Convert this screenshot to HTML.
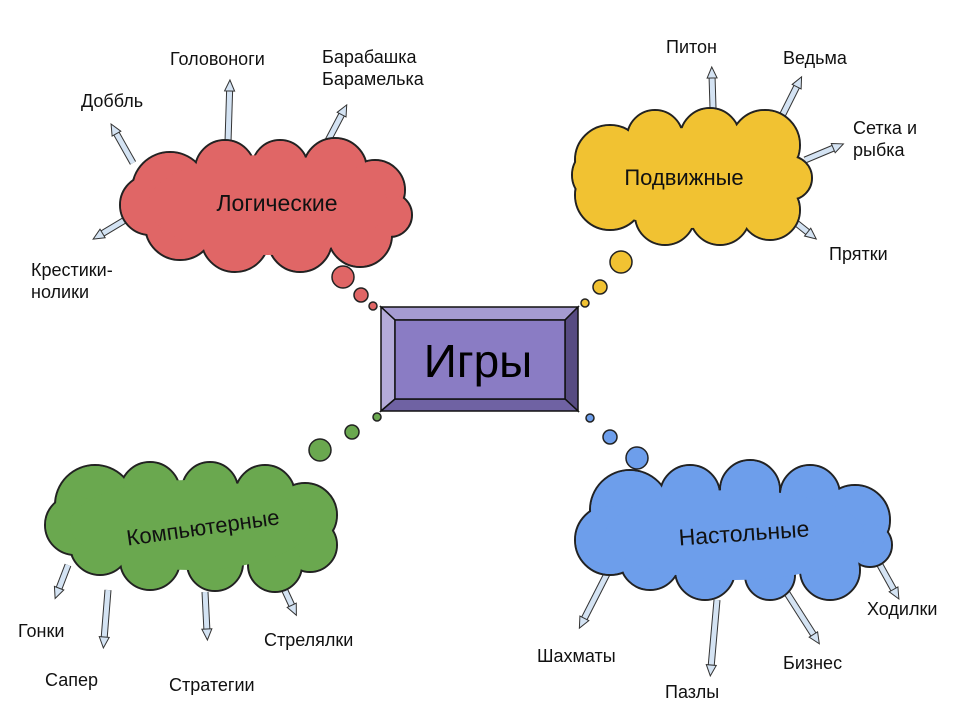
<!DOCTYPE html>
<html><head><meta charset="utf-8"><style>
html,body{margin:0;padding:0;background:#fff;}
svg{display:block;font-family:"Liberation Sans",sans-serif;}
</style></head><body>
<svg width="960" height="720" viewBox="0 0 960 720">
<defs>
<marker id="ah" markerUnits="userSpaceOnUse" markerWidth="16" markerHeight="16" refX="4" refY="8" orient="auto">
<polygon points="1,3 12,8 1,13" fill="#d4e3f3" stroke="#333" stroke-width="1"/>
</marker>
</defs>
<g stroke-linecap="butt">
<g stroke="#333" stroke-width="7">
<line x1="228" y1="142" x2="229.7" y2="88"/>
<line x1="322" y1="152" x2="343" y2="112"/>
<line x1="133" y1="163" x2="115" y2="131"/>
<line x1="125" y1="220" x2="100" y2="235"/>
<line x1="713" y1="108" x2="712" y2="75"/>
<line x1="780" y1="120" x2="798" y2="84"/>
<line x1="805" y1="160" x2="836" y2="147"/>
<line x1="780" y1="210" x2="810" y2="234"/>
<line x1="68" y1="565" x2="58" y2="591"/>
<line x1="108" y1="590" x2="104" y2="640"/>
<line x1="205" y1="592" x2="207" y2="632"/>
<line x1="280" y1="580" x2="293" y2="608"/>
<line x1="610" y1="568" x2="583" y2="621"/>
<line x1="717" y1="600" x2="711" y2="668"/>
<line x1="785" y1="590" x2="815" y2="637"/>
<line x1="880" y1="565" x2="895" y2="592"/>
</g>
<g stroke="#d4e3f3" stroke-width="5" marker-end="url(#ah)">
<line x1="228" y1="142" x2="229.7" y2="88"/>
<line x1="322" y1="152" x2="343" y2="112"/>
<line x1="133" y1="163" x2="115" y2="131"/>
<line x1="125" y1="220" x2="100" y2="235"/>
<line x1="713" y1="108" x2="712" y2="75"/>
<line x1="780" y1="120" x2="798" y2="84"/>
<line x1="805" y1="160" x2="836" y2="147"/>
<line x1="780" y1="210" x2="810" y2="234"/>
<line x1="68" y1="565" x2="58" y2="591"/>
<line x1="108" y1="590" x2="104" y2="640"/>
<line x1="205" y1="592" x2="207" y2="632"/>
<line x1="280" y1="580" x2="293" y2="608"/>
<line x1="610" y1="568" x2="583" y2="621"/>
<line x1="717" y1="600" x2="711" y2="668"/>
<line x1="785" y1="590" x2="815" y2="637"/>
<line x1="880" y1="565" x2="895" y2="592"/>
</g>
</g>

<g stroke="#222" stroke-width="2" fill="#e06666">
<circle cx="170" cy="190" r="38"/><circle cx="225" cy="170" r="30"/><circle cx="280" cy="168" r="28"/><circle cx="335" cy="170" r="32"/><circle cx="375" cy="190" r="30"/><circle cx="390" cy="215" r="22"/><circle cx="360" cy="235" r="32"/><circle cx="300" cy="240" r="32"/><circle cx="235" cy="238" r="34"/><circle cx="180" cy="225" r="35"/><circle cx="150" cy="205" r="30"/>
</g>
<g fill="#e06666">
<circle cx="170" cy="190" r="37"/><circle cx="225" cy="170" r="29"/><circle cx="280" cy="168" r="27"/><circle cx="335" cy="170" r="31"/><circle cx="375" cy="190" r="29"/><circle cx="390" cy="215" r="21"/><circle cx="360" cy="235" r="31"/><circle cx="300" cy="240" r="31"/><circle cx="235" cy="238" r="33"/><circle cx="180" cy="225" r="34"/><circle cx="150" cy="205" r="29"/>
<ellipse cx="268" cy="205" rx="120" ry="50"/>
</g>
<g stroke="#222" stroke-width="1.5" fill="#e06666">
<circle cx="343" cy="277" r="11"/><circle cx="361" cy="295" r="7"/><circle cx="373" cy="306" r="4"/>
</g>
<text x="277" y="211" font-size="23" text-anchor="middle" fill="#111">Логические</text>

<g stroke="#222" stroke-width="2" fill="#f1c232">
<circle cx="610" cy="160" r="35"/><circle cx="655" cy="138" r="28"/><circle cx="710" cy="138" r="30"/><circle cx="765" cy="145" r="35"/><circle cx="790" cy="178" r="22"/><circle cx="770" cy="210" r="30"/><circle cx="720" cy="215" r="30"/><circle cx="665" cy="215" r="30"/><circle cx="610" cy="195" r="35"/><circle cx="600" cy="175" r="28"/>
</g>
<g fill="#f1c232">
<circle cx="610" cy="160" r="34"/><circle cx="655" cy="138" r="27"/><circle cx="710" cy="138" r="29"/><circle cx="765" cy="145" r="34"/><circle cx="790" cy="178" r="21"/><circle cx="770" cy="210" r="29"/><circle cx="720" cy="215" r="29"/><circle cx="665" cy="215" r="29"/><circle cx="610" cy="195" r="34"/><circle cx="600" cy="175" r="27"/>
<ellipse cx="690" cy="178" rx="100" ry="50"/>
</g>
<g stroke="#222" stroke-width="1.5" fill="#f1c232">
<circle cx="621" cy="262" r="11"/><circle cx="600" cy="287" r="7"/><circle cx="585" cy="303" r="4"/>
</g>
<text x="684" y="185" font-size="22" text-anchor="middle" fill="#111">Подвижные</text>

<g stroke="#222" stroke-width="2" fill="#6aa84f">
<circle cx="95" cy="505" r="40"/><circle cx="150" cy="492" r="30"/><circle cx="210" cy="490" r="28"/><circle cx="265" cy="495" r="30"/><circle cx="305" cy="515" r="32"/><circle cx="310" cy="545" r="27"/><circle cx="275" cy="565" r="27"/><circle cx="215" cy="563" r="28"/><circle cx="150" cy="560" r="30"/><circle cx="100" cy="545" r="30"/><circle cx="75" cy="525" r="30"/>
</g>
<g fill="#6aa84f">
<circle cx="95" cy="505" r="39"/><circle cx="150" cy="492" r="29"/><circle cx="210" cy="490" r="27"/><circle cx="265" cy="495" r="29"/><circle cx="305" cy="515" r="31"/><circle cx="310" cy="545" r="26"/><circle cx="275" cy="565" r="26"/><circle cx="215" cy="563" r="27"/><circle cx="150" cy="560" r="29"/><circle cx="100" cy="545" r="29"/><circle cx="75" cy="525" r="29"/>
<ellipse cx="190" cy="525" rx="120" ry="45"/>
</g>
<g stroke="#222" stroke-width="1.5" fill="#6aa84f">
<circle cx="320" cy="450" r="11"/><circle cx="352" cy="432" r="7"/><circle cx="377" cy="417" r="4"/>
</g>
<text x="203" y="535" font-size="22" text-anchor="middle" fill="#111" transform="rotate(-8 203 528)">Компьютерные</text>

<g stroke="#222" stroke-width="2" fill="#6d9eeb">
<circle cx="630" cy="510" r="40"/><circle cx="690" cy="495" r="30"/><circle cx="750" cy="490" r="30"/><circle cx="810" cy="495" r="30"/><circle cx="855" cy="520" r="35"/><circle cx="870" cy="545" r="22"/><circle cx="830" cy="570" r="30"/><circle cx="770" cy="575" r="25"/><circle cx="705" cy="570" r="30"/><circle cx="650" cy="560" r="30"/><circle cx="610" cy="540" r="35"/>
</g>
<g fill="#6d9eeb">
<circle cx="630" cy="510" r="39"/><circle cx="690" cy="495" r="29"/><circle cx="750" cy="490" r="29"/><circle cx="810" cy="495" r="29"/><circle cx="855" cy="520" r="34"/><circle cx="870" cy="545" r="21"/><circle cx="830" cy="570" r="29"/><circle cx="770" cy="575" r="24"/><circle cx="705" cy="570" r="29"/><circle cx="650" cy="560" r="29"/><circle cx="610" cy="540" r="34"/>
<ellipse cx="735" cy="535" rx="130" ry="45"/>
</g>
<g stroke="#222" stroke-width="1.5" fill="#6d9eeb">
<circle cx="637" cy="458" r="11"/><circle cx="610" cy="437" r="7"/><circle cx="590" cy="418" r="4"/>
</g>
<text x="744" y="541" font-size="23" text-anchor="middle" fill="#111" transform="rotate(-4 744 534)">Настольные</text>

<g stroke="#111" stroke-width="1.5">
<polygon points="381,307 578,307 565,320 395,320" fill="#a59bd1"/>
<polygon points="381,307 395,320 395,399 381,411" fill="#b4abd9"/>
<polygon points="578,307 578,411 565,399 565,320" fill="#574b82"/>
<polygon points="381,411 578,411 565,399 395,399" fill="#6f62a3"/>
<rect x="395" y="320" width="170" height="79" fill="#8a7cc4"/>
</g>
<text x="478" y="377" font-size="46" text-anchor="middle" fill="#000">Игры</text>

<g font-size="18" fill="#111">
<text x="170" y="65">Головоноги</text>
<text x="322" y="63">Барабашка</text>
<text x="322" y="85">Барамелька</text>
<text x="81" y="107">Доббль</text>
<text x="31" y="276">Крестики-</text>
<text x="31" y="298">нолики</text>
<text x="666" y="53">Питон</text>
<text x="783" y="64">Ведьма</text>
<text x="853" y="134">Сетка и</text>
<text x="853" y="156">рыбка</text>
<text x="829" y="260">Прятки</text>
<text x="18" y="637">Гонки</text>
<text x="45" y="686">Сапер</text>
<text x="169" y="691">Стратегии</text>
<text x="264" y="646">Стрелялки</text>
<text x="537" y="662">Шахматы</text>
<text x="665" y="698">Пазлы</text>
<text x="783" y="669">Бизнес</text>
<text x="867" y="615">Ходилки</text>
</g>
</svg>
</body></html>
